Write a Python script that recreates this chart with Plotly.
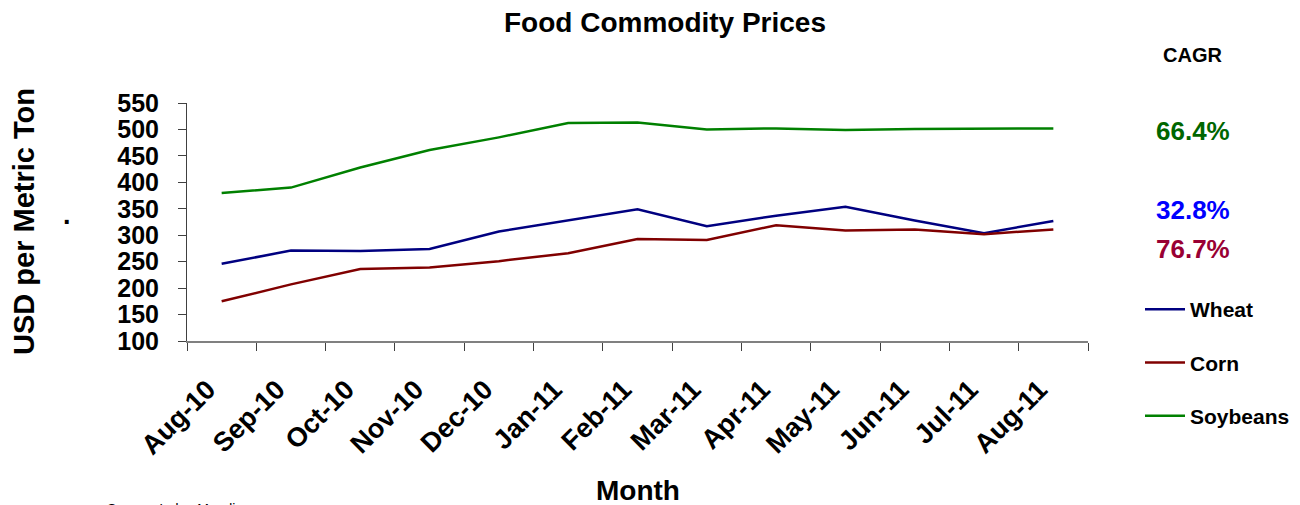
import plotly.graph_objects as go

months = ["Aug-10", "Sep-10", "Oct-10", "Nov-10", "Dec-10", "Jan-11", "Feb-11",
          "Mar-11", "Apr-11", "May-11", "Jun-11", "Jul-11", "Aug-11"]
wheat = [246, 271, 270, 274, 307, 328, 349, 317, 337, 354, 328, 304, 327]
corn = [175, 207, 236, 239, 251, 266, 293, 291, 319, 309, 311, 302, 311]
soybeans = [380, 390, 428, 461, 485, 512, 513, 500, 502, 499, 501, 502, 502]
cagr_labels = ["66.4%", "32.8%", "76.7%"]
y_ticks = [100, 150, 200, 250, 300, 350, 400, 450, 500, 550]

FONT = "Liberation Sans, Arial, sans-serif"
OFF = 8  # page body margin
W, H = 1300 - OFF, 505 - OFF
L, R, T, B = 187 - OFF, 1088 - OFF, 103 - OFF, 341 - OFF


def px(x):
    return (x - OFF - L) / (R - L)


def py(y):
    return (B - (y - OFF)) / (B - T)


fig = go.Figure()
series = [("Wheat", wheat, "#000080"), ("Corn", corn, "#800000"),
          ("Soybeans", soybeans, "#008000")]
for name, vals, col in series:
    fig.add_trace(go.Scatter(x=months, y=vals, name=name, mode="lines",
                             line=dict(color=col, width=2.5),
                             legendgroup=name))

ann = []
ann.append(dict(text="<b>CAGR</b>", x=px(1192), y=py(55), font=dict(size=20, color="black")))
ann.append(dict(text="<b>" + cagr_labels[0] + "</b>", x=px(1193), y=py(131), font=dict(size=26, color="#006600")))
ann.append(dict(text="<b>" + cagr_labels[1] + "</b>", x=px(1193), y=py(210), font=dict(size=26, color="#0000FF")))
ann.append(dict(text="<b>" + cagr_labels[2] + "</b>", x=px(1193), y=py(249), font=dict(size=26, color="#990033")))
ann.append(dict(text="<b>USD per Metric Ton</b>", x=px(24), y=py(222), textangle=-90,
                font=dict(size=29, color="black")))
ann.append(dict(text="<b>.</b>", x=px(67), y=py(215), font=dict(size=27, color="black")))
ann.append(dict(text="<b>Month</b>", x=px(638), y=py(490), font=dict(size=28, color="black")))
ann.append(dict(text="Source: Index Mundi", x=px(105), y=py(499), xanchor="left", yanchor="top",
                font=dict(size=14, color="black")))
for a in ann:
    a.setdefault("xanchor", "center")
    a.setdefault("yanchor", "middle")
    a.update(xref="paper", yref="paper", showarrow=False)

fig.update_layout(
    width=W, height=H,
    margin=dict(l=L, r=W - R, t=T, b=H - B, pad=0),
    paper_bgcolor="white", plot_bgcolor="white",
    font=dict(family=FONT, color="black"),
    title=dict(text="<b>Food Commodity Prices</b>", x=(665 - OFF) / W, xanchor="center",
               y=1 - (22 - OFF) / H, yanchor="middle", font=dict(size=28, color="black")),
    showlegend=True,
    legend=dict(xref="container", yref="container", x=(1140 - OFF) / W, y=1 - (289 - OFF) / H,
                xanchor="left", yanchor="top", traceorder="grouped",
                tracegroupgap=23, font=dict(size=21, color="black", weight="bold"),
                bgcolor="rgba(0,0,0,0)", itemwidth=40),
    annotations=ann,
)
fig.update_xaxes(type="category", range=[-0.5, len(months) - 0.5], showgrid=False,
                 showline=True, linecolor="#808080",
                 linewidth=2, ticks="outside", tickson="boundaries", ticklen=8,
                 tickcolor="#404040", tickwidth=1, tickangle=-45,
                 tickfont=dict(size=27, color="black", family=FONT, weight="bold"),
                 ticklabelstandoff=20, ticklabelshift=-14, zeroline=False, fixedrange=True)
fig.update_yaxes(range=[100, 550], tickvals=y_ticks, showgrid=False, showline=True,
                 linecolor="#404040", linewidth=1, ticks="outside", ticklen=8,
                 tickcolor="#404040", tickfont=dict(size=25, color="black", family=FONT, weight="bold"),
                 ticklabelstandoff=14, zeroline=False, fixedrange=True)

fig.write_html("out.html")
